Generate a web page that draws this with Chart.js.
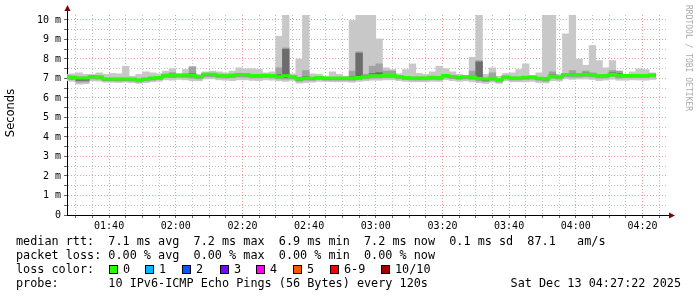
<!DOCTYPE html>
<html>
<head>
<meta charset="utf-8">
<script src="https://cdn.jsdelivr.net/npm/chart.js@4.4.1/dist/chart.umd.min.js"></script>
<style>
  body { margin: 0; background: #fff; }
  #wrap { position: relative; width: 697px; height: 297px; }
  #c { display: block; }
  .t { position: absolute; font-family: "DejaVu Sans Mono", monospace; font-size: 11.8px; line-height: 14px; white-space: pre; color: #000; }
  .sq { position: absolute; width: 7px; height: 7px; border: 1px solid #000; top: 265px; }
</style>
</head>
<body>
<div id="wrap">
  <canvas id="c" width="697" height="297"></canvas>
  <div class="t" style="left:16px;top:234px">median rtt:  7.1 ms avg  7.2 ms max  6.9 ms min  7.2 ms now  0.1 ms sd  87.1   am/s</div>
  <div class="t" style="left:16px;top:248px">packet loss: 0.00 % avg  0.00 % max  0.00 % min  0.00 % now</div>
  <div class="t" style="left:16px;top:262px">loss color:</div>
  <div id="loss"></div>
  <div class="t" style="left:16px;top:276px">probe:       10 IPv6-ICMP Echo Pings (56 Bytes) every 120s</div>
  <div class="t" style="right:16px;top:276px">Sat Dec 13 04:27:22 2025</div>
</div>
<script>
// 2-minute samples, start time of each
const sampleTimes = [
  "01:26","01:28","01:30","01:32","01:34","01:36","01:38","01:40","01:42","01:44",
  "01:46","01:48","01:50","01:52","01:54","01:56","01:58","02:00","02:02","02:04",
  "02:06","02:08","02:10","02:12","02:14","02:16","02:18","02:20","02:22","02:24",
  "02:26","02:28","02:30","02:32","02:34","02:36","02:38","02:40","02:42","02:44",
  "02:46","02:48","02:50","02:52","02:54","02:56","02:58","03:00","03:02","03:04",
  "03:06","03:08","03:10","03:12","03:14","03:16","03:18","03:20","03:22","03:24",
  "03:26","03:28","03:30","03:32","03:34","03:36","03:38","03:40","03:42","03:44",
  "03:46","03:48","03:50","03:52","03:54","03:56","03:58","04:00","04:02","04:04",
  "04:06","04:08","04:10","04:12","04:14","04:16","04:18","04:20","04:22"
]
const sampleEnd = "04:24"

// median rtt (ms)
const median = [
  7.09,7.06,7.03,7.03,7.10,7.08,6.97,6.97,6.97,6.97,
  6.97,6.92,6.97,7.02,7.05,7.17,7.17,7.17,7.17,7.17,
  7.09,7.22,7.22,7.16,7.14,7.17,7.21,7.19,7.15,7.15,
  7.17,7.15,7.09,7.14,7.09,6.98,7.03,7.01,7.05,7.02,
  7.02,7.02,7.02,7.02,7.05,7.09,7.14,7.14,7.15,7.15,
  7.09,7.05,7.03,7.03,7.03,7.06,7.04,7.15,7.10,7.06,
  7.09,7.06,7.00,6.97,7.01,6.93,7.08,7.03,7.03,7.06,
  7.08,7.01,6.97,7.12,7.08,7.21,7.19,7.19,7.22,7.19,
  7.14,7.15,7.22,7.16,7.15,7.15,7.15,7.15,7.18
]
// smoke: slowest / fastest ping
const pingMax = [
  7.21,7.24,7.29,7.21,7.21,7.29,7.21,7.26,7.24,7.63,
  7.12,7.21,7.34,7.29,7.24,7.38,7.50,7.26,7.46,7.60,
  7.21,7.34,7.38,7.34,7.29,7.38,7.55,7.50,7.50,7.46,
  7.29,7.34,9.17,10.5,7.24,8.00,10.5,7.24,7.21,7.12,
  7.34,7.21,7.12,9.98,10.5,10.5,10.5,9.03,7.55,7.46,
  7.24,7.46,7.75,7.26,7.21,7.34,7.63,7.50,7.34,7.21,
  7.15,8.09,10.5,7.21,7.55,7.12,7.26,7.29,7.46,7.75,
  7.15,7.29,10.5,10.5,7.21,9.29,10.5,8.00,7.68,8.69,
  7.92,7.55,7.92,7.38,7.21,7.34,7.50,7.46,7.29
]
const pingMin = [
  6.88,6.85,6.71,6.73,6.88,6.86,6.81,6.80,6.79,6.81,
  6.79,6.75,6.79,6.83,6.86,6.93,6.91,6.95,6.93,6.89,
  6.88,6.98,6.98,6.93,6.91,6.89,6.93,6.93,6.90,6.89,
  6.93,6.91,6.88,6.85,6.90,6.76,6.79,6.81,6.85,6.85,
  6.83,6.83,6.83,6.81,6.85,6.88,6.91,6.91,6.93,6.93,
  6.89,6.85,6.83,6.83,6.83,6.85,6.85,6.93,6.89,6.85,
  6.88,6.83,6.78,6.75,6.81,6.75,6.89,6.83,6.83,6.83,
  6.85,6.78,6.77,6.89,6.87,6.98,6.95,6.97,6.97,6.95,
  6.89,6.92,6.96,6.91,6.91,6.93,6.92,6.91,6.95
]
// inner smoke bands
const midHigh = [
  7.14,7.12,7.08,7.08,7.14,7.14,7.02,7.02,7.02,7.03,
  7.01,6.97,7.02,7.07,7.10,7.22,7.30,7.22,7.25,7.60,
  7.13,7.27,7.27,7.21,7.19,7.22,7.27,7.25,7.20,7.20,
  7.22,7.20,7.55,8.57,7.13,7.06,7.41,7.06,7.09,7.06,
  7.06,7.06,7.06,7.38,8.37,7.22,7.63,7.75,7.38,7.38,
  7.14,7.10,7.08,7.08,7.08,7.11,7.09,7.21,7.15,7.11,
  7.14,7.38,7.92,7.02,7.29,6.98,7.13,7.08,7.08,7.11,
  7.13,7.06,7.05,7.34,7.13,7.26,7.41,7.24,7.38,7.29,
  7.19,7.20,7.41,7.38,7.20,7.20,7.20,7.20,7.23
]
const midLow = [
  6.97,6.94,6.81,6.82,6.98,6.96,6.88,6.88,6.87,6.88,
  6.87,6.82,6.87,6.91,6.94,7.05,7.04,7.06,7.05,7.02,
  6.98,7.09,7.09,7.04,7.02,7.04,7.08,7.07,7.03,7.03,
  7.05,7.03,6.98,6.97,6.98,6.86,6.91,6.90,6.94,6.91,
  6.91,6.91,6.91,6.90,6.94,6.98,7.02,7.02,7.04,7.04,
  6.98,6.94,6.92,6.92,6.92,6.95,6.93,7.04,6.99,6.95,
  6.98,6.95,6.88,6.84,6.90,6.82,6.97,6.92,6.92,6.95,
  6.97,6.90,6.86,7.01,6.97,7.09,7.07,7.07,7.10,7.07,
  7.02,7.03,7.10,7.02,7.04,7.04,7.04,7.04,7.07
]
const darkHigh = [
  7.12,7.09,7.06,7.06,7.13,7.11,7.00,7.00,7.00,7.00,
  7.00,6.95,7.00,7.05,7.08,7.20,7.22,7.20,7.20,7.25,
  7.12,7.25,7.25,7.19,7.17,7.20,7.24,7.22,7.18,7.18,
  7.20,7.18,7.20,8.50,7.12,7.02,7.10,7.04,7.08,7.05,
  7.05,7.05,7.05,7.10,8.30,7.14,7.25,7.30,7.20,7.20,
  7.12,7.08,7.06,7.06,7.06,7.09,7.07,7.18,7.13,7.09,
  7.12,7.12,7.85,7.00,7.06,6.96,7.11,7.06,7.06,7.09,
  7.11,7.04,7.02,7.18,7.11,7.24,7.25,7.22,7.28,7.22,
  7.17,7.18,7.30,7.25,7.18,7.18,7.18,7.18,7.21
]
const darkLow = [
  7.05,7.02,6.90,6.90,7.06,7.04,6.93,6.93,6.93,6.93,
  6.93,6.88,6.93,6.98,7.01,7.13,7.12,7.13,7.13,7.11,
  7.05,7.18,7.18,7.12,7.10,7.13,7.17,7.15,7.11,7.11,
  7.13,7.11,7.05,7.05,7.05,6.92,6.98,6.97,7.01,6.98,
  6.98,6.98,6.98,6.98,7.01,7.05,7.10,7.10,7.11,7.11,
  7.05,7.01,6.99,6.99,6.99,7.02,7.00,7.11,7.06,7.02,
  7.05,7.02,6.95,6.90,6.97,6.89,7.04,6.99,6.99,7.02,
  7.04,6.97,6.93,7.08,7.04,7.17,7.15,7.15,7.18,7.15,
  7.10,7.11,7.18,7.12,7.11,7.11,7.11,7.11,7.14
]

const lossLabels = ["0", "1", "2", "3", "4", "5", "6-9", "10/10"]
const lossColors = ["#26ff00", "#00b8ff", "#0059ff", "#7e00ff", "#ff00ff", "#ff5500", "#ff0000", "#a10000"]
const lossBoxX = [109, 145, 182, 220, 256, 293, 330, 381]

const yTicks = [0, 0.5, 1, 1.5, 2, 2.5, 3, 3.5, 4, 4.5, 5, 5.5, 6, 6.5, 7, 7.5, 8, 8.5, 9, 9.5, 10]

const viewStart = "01:27:22"
const viewEnd = "04:27:22"

// helpers
const toMin = (s) => {
  const p = s.split(":").map(Number)
  return p[0] * 60 + p[1] + (p[2] || 0) / 60
}
const fmt = (v) => {
  const h = Math.floor(v / 60), m = Math.round(v % 60)
  return String(h).padStart(2, "0") + ":" + String(m).padStart(2, "0")
}

// loss color legend
const lossDiv = document.getElementById("loss")
lossLabels.forEach((lab, i) => {
  const sq = document.createElement("div")
  sq.className = "sq"
  sq.style.left = lossBoxX[i] + "px"
  sq.style.background = lossColors[i]
  lossDiv.appendChild(sq)
  const tx = document.createElement("div")
  tx.className = "t"
  tx.style.left = (lossBoxX[i] + 14) + "px"
  tx.style.top = "262px"
  tx.textContent = lab
  lossDiv.appendChild(tx)
})

const xs = sampleTimes.map(t => toMin(t) + 1) // bar centres
const band = (lo, hi) => xs.map((x, i) => ({ x: x, y: [lo[i], hi[i]] }))
const medLine = sampleTimes.map((t, i) => ({ x: toMin(t), y: median[i] }))
medLine.push({ x: toMin(sampleEnd), y: median[median.length - 1] })

const barDefaults = {
  type: "bar", grouped: false, borderWidth: 0,
  barPercentage: 1, categoryPercentage: 1,
}

const MONO = "'DejaVu Sans Mono', monospace"

const rrdDecor = {
  id: "rrdDecor",
  afterDraw(chart) {
    const ctx = chart.ctx
    const a = chart.chartArea
    ctx.save()
    // axis extensions + arrows
    ctx.strokeStyle = "#000"
    ctx.lineWidth = 1
    ctx.beginPath()
    ctx.moveTo(a.left + 0.5, a.top)
    ctx.lineTo(a.left + 0.5, 10)
    ctx.moveTo(a.right, a.bottom + 0.5)
    ctx.lineTo(671, a.bottom + 0.5)
    ctx.stroke()
    ctx.fillStyle = "#800000"
    ctx.beginPath()
    ctx.moveTo(a.left + 0.5, 5)
    ctx.lineTo(a.left - 2.5, 11)
    ctx.lineTo(a.left + 3.5, 11)
    ctx.closePath()
    ctx.fill()
    ctx.beginPath()
    ctx.moveTo(675, a.bottom + 0.5)
    ctx.lineTo(669, a.bottom - 2.5)
    ctx.lineTo(669, a.bottom + 3.5)
    ctx.closePath()
    ctx.fill()
    // y axis title
    ctx.fillStyle = "#000"
    ctx.font = "11.5px 'DejaVu Sans', sans-serif"
    ctx.textAlign = "center"
    ctx.textBaseline = "middle"
    ctx.translate(11, 113)
    ctx.rotate(-Math.PI / 2)
    ctx.fillText("Seconds", 0, 0)
    ctx.restore()
    // watermark
    ctx.save()
    ctx.fillStyle = "#aaaaaa"
    ctx.font = "8px " + MONO
    ctx.textAlign = "left"
    ctx.textBaseline = "middle"
    ctx.translate(688, 5)
    ctx.rotate(Math.PI / 2)
    ctx.fillText("RRDTOOL / TOBI OETIKER", 0, 0)
    ctx.restore()
  }
}

const majorGrid = "rgba(235, 120, 120, 0.75)"
const minorGrid = "rgba(170, 170, 170, 0.75)"

new Chart(document.getElementById("c"), {
  data: {
    datasets: [
      { ...barDefaults, data: band(pingMin, pingMax), backgroundColor: "#c8c8c8", order: 4 },
      { ...barDefaults, data: band(midLow, midHigh), backgroundColor: "#a2a2a2", order: 3 },
      { ...barDefaults, data: band(darkLow, darkHigh), backgroundColor: "#6c6c6c", order: 2 },
      {
        type: "line", data: medLine, borderColor: lossColors[0], borderWidth: 3,
        stepped: true, pointRadius: 0, tension: 0, order: 1,
      },
    ],
  },
  plugins: [rrdDecor],
  options: {
    responsive: false,
    animation: false,
    devicePixelRatio: 1,
    layout: { padding: { top: 15, right: 30, left: 0, bottom: 0 } },
    plugins: { legend: { display: false }, tooltip: { enabled: false } },
    scales: {
      x: {
        type: "linear",
        offset: false,
        z: 1,
        min: toMin(viewStart),
        max: toMin(viewEnd),
        afterBuildTicks: (scale) => {
          const t = []
          for (let v = 90; v <= 265; v += 5) t.push({ value: v })
          scale.ticks = t
        },
        afterFit: (scale) => { scale.height = 82 },
        ticks: {
          autoSkip: false, maxRotation: 0, padding: 2,
          color: "#000", font: { family: MONO, size: 10 },
          callback: (v) => (v % 20 === 0 ? fmt(v) : ""),
        },
        grid: {
          offset: false,
          color: (c) => (c.tick && c.tick.value % 20 === 0 ? majorGrid : minorGrid),
          tickColor: "#666", tickLength: 3, lineWidth: 1,
        },
        border: { display: true, color: "#000", width: 1, dash: [1, 2] },
      },
      y: {
        type: "linear",
        z: 1,
        min: 0,
        max: 10.256,
        afterBuildTicks: (scale) => { scale.ticks = yTicks.map(v => ({ value: v })) },
        afterFit: (scale) => { scale.width = 67 },
        ticks: {
          autoSkip: false, padding: 3,
          color: "#000", font: { family: MONO, size: 10 },
          callback: (v) => (v === 0 ? "0" : Number.isInteger(v) ? v + " m" : ""),
        },
        grid: {
          color: (c) => (c.tick && Number.isInteger(c.tick.value) ? majorGrid : minorGrid),
          tickColor: "#666", tickLength: 3, lineWidth: 1,
        },
        border: { display: true, color: "#000", width: 1, dash: [1, 2] },
      },
    },
  },
})
</script>
</body>
</html>
